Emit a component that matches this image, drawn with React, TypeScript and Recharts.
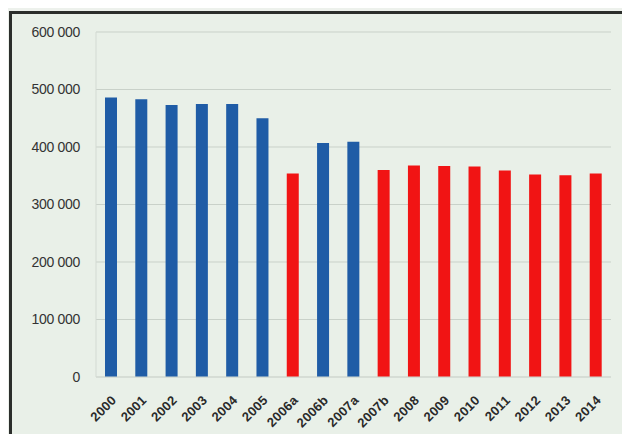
import { BarChart, Bar, Cell, XAxis, YAxis, CartesianGrid } from "recharts"

const years = [
  "2000", "2001", "2002", "2003", "2004", "2005", "2006a", "2006b", "2007a",
  "2007b", "2008", "2009", "2010", "2011", "2012", "2013", "2014",
]
const values = [
  486000, 483000, 473000, 475000, 475000, 450000, 354000, 407000, 409000,
  360000, 368000, 367000, 366000, 359000, 352000, 351000, 354000,
]
// true = red series (projection / new method)
const projected = [
  false, false, false, false, false, false, true, false, false,
  true, true, true, true, true, true, true, true,
]
const yTicks = [0, 100000, 200000, 300000, 400000, 500000, 600000]

const data = years.map((year, i) => ({ year, value: values[i], projected: projected[i] }))

const fmt = (v: number) => (v === 0 ? "0" : `${Math.round(v / 1000)} 000`)

function XTick(props: any) {
  const { x, y, payload } = props
  const tx = x + 6
  const ty = y + 16
  return (
    <text
      x={tx}
      y={ty}
      transform={`rotate(-45, ${tx}, ${ty})`}
      textAnchor="end"
      fontSize={13}
      fontWeight={600}
      letterSpacing={0.3}
      fill="#2a2a2a"
      fontFamily="Liberation Sans, Arial, sans-serif"
    >
      {payload.value}
    </text>
  )
}

export default function App() {
  return (
    <div
      style={{
        position: "relative",
        width: 630,
        height: 442,
        margin: -8,
        background: "#edf1ec",
        overflow: "hidden",
      }}
    >
      {/* photo frame */}
      <div
        style={{
          position: "absolute",
          left: 9,
          top: 11,
          width: 615,
          height: 440,
          background: "#e9f0e8",
          borderLeft: "3px solid #2b2e2b",
          borderTop: "3px solid #2b2e2b",
          borderRight: "1px solid #cfd6cf",
        }}
      />
      <div style={{ position: "absolute", left: 0, top: 0 }}>
        <BarChart
          width={630}
          height={442}
          data={data}
          margin={{ top: 32, right: 19, left: 10, bottom: 0 }}
        >
          <CartesianGrid vertical={false} stroke="#c9d1c9" />
          <XAxis
            dataKey="year"
            height={65}
            interval={0}
            tickLine={false}
            axisLine={{ stroke: "#d3dad3" }}
            tick={<XTick />}
          />
          <YAxis
            width={86}
            domain={[0, 600000]}
            ticks={yTicks}
            tickFormatter={fmt}
            tickLine={false}
            axisLine={{ stroke: "#d3dad3" }}
            tickMargin={10}
            tick={{
              fontSize: 14,
              fill: "#333",
              letterSpacing: -0.3,
              fontFamily: "Liberation Sans, Arial, sans-serif",
            }}
          />
          <Bar dataKey="value" barSize={12} isAnimationActive={false}>
            {data.map((d, i) => (
              <Cell key={i} fill={d.projected ? "#f11414" : "#1f5ca6"} />
            ))}
          </Bar>
        </BarChart>
      </div>
    </div>
  )
}
